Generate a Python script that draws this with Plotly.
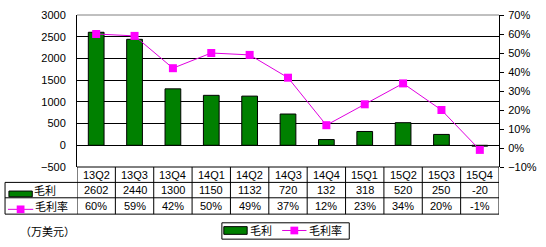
import plotly.graph_objects as go

categories = ["13Q2", "13Q3", "13Q4", "14Q1", "14Q2", "14Q3", "14Q4", "15Q1", "15Q2", "15Q3", "15Q4"]
gross_profit = [2602, 2440, 1300, 1150, 1132, 720, 132, 318, 520, 250, -20]
gross_margin = [60, 59, 42, 50, 49, 37, 12, 23, 34, 20, -1]
series_names = ["毛利", "毛利率"]
unit_label = "（万美元）"

W, H = 546, 247
L, R, T, B = 77, 35, 9, 80
PW, PH = W - L - R, H - T - B

def px(x):
    return (x - L) / PW

def py(y):
    return (H - B - y) / PH

BAR_C = "#008000"
LINE_C = "#E000E0"
MK_C = "#FF00FF"
NUM_FONT = dict(family="Liberation Sans, Arial, sans-serif", size=11, color="black")
CJK_FONT = dict(family="Noto Sans CJK SC, sans-serif", size=11, color="black")

fig = go.Figure()
fig.add_trace(go.Bar(x=categories, y=gross_profit, name=series_names[0], width=0.41,
                     marker=dict(color=BAR_C, line=dict(color="black", width=1)),
                     yaxis="y", showlegend=False))
fig.add_trace(go.Scatter(x=categories, y=gross_margin, name=series_names[1], mode="lines+markers",
                         line=dict(color=LINE_C, width=1),
                         marker=dict(symbol="square", size=8, color=MK_C),
                         yaxis="y2", showlegend=False))

shapes = []
annotations = []
n = len(categories)

# top border (grey)
shapes.append(dict(type="line", xref="paper", yref="paper", x0=0, x1=1, y0=1, y1=1,
                   line=dict(color="#808080", width=1), layer="above"))

# table geometry (pixels)
row_tops = [167, 183, 199, 216]
for i, yy in enumerate(row_tops):
    x0 = px(77) if i == 0 else px(3)
    shapes.append(dict(type="line", xref="paper", yref="paper", x0=x0, x1=1,
                       y0=py(yy), y1=py(yy), line=dict(color="black", width=1)))
shapes.append(dict(type="line", xref="paper", yref="paper", x0=px(3), x1=px(3),
                   y0=py(183), y1=py(216), line=dict(color="black", width=1)))
for k in range(n + 1):
    shapes.append(dict(type="line", xref="x", yref="paper", x0=k - 0.5, x1=k - 0.5,
                       y0=py(167), y1=py(216), line=dict(color="black", width=1)))

row_centers = [175, 191, 207.5]
for i, c in enumerate(categories):
    annotations.append(dict(x=c, xref="x", y=py(row_centers[0]), yref="paper", text=c,
                            showarrow=False, font=NUM_FONT, xanchor="center", yanchor="middle"))
    annotations.append(dict(x=c, xref="x", y=py(row_centers[1]), yref="paper", text=str(gross_profit[i]),
                            showarrow=False, font=NUM_FONT, xanchor="center", yanchor="middle"))
    annotations.append(dict(x=c, xref="x", y=py(row_centers[2]), yref="paper", text=f"{gross_margin[i]}%",
                            showarrow=False, font=NUM_FONT, xanchor="center", yanchor="middle"))

def bar_key(x0, x1, y0, y1):
    shapes.append(dict(type="rect", xref="paper", yref="paper", x0=px(x0), x1=px(x1),
                       y0=py(y1), y1=py(y0), fillcolor=BAR_C, line=dict(color="black", width=1)))

def line_key(x0, x1, yc):
    shapes.append(dict(type="line", xref="paper", yref="paper", x0=px(x0), x1=px(x1),
                       y0=py(yc), y1=py(yc), line=dict(color=LINE_C, width=1)))
    xm = (x0 + x1) / 2
    shapes.append(dict(type="rect", xref="paper", yref="paper", x0=px(xm - 4), x1=px(xm + 4),
                       y0=py(yc + 4), y1=py(yc - 4), fillcolor=MK_C, line=dict(width=0)))

# table keys
bar_key(7, 31, 192, 198)
annotations.append(dict(x=px(31), xref="paper", y=py(191), yref="paper", text=series_names[0],
                        showarrow=False, font=CJK_FONT, xanchor="left", yanchor="middle",
                        height=14))
line_key(6, 32, 211)
annotations.append(dict(x=px(32), xref="paper", y=py(207.5), yref="paper", text=series_names[1],
                        showarrow=False, font=CJK_FONT, xanchor="left", yanchor="middle",
                        height=14))

# bottom legend
shapes.append(dict(type="rect", xref="paper", yref="paper", x0=px(226), x1=px(357),
                   y0=py(242), y1=py(225), line=dict(color="black", width=1)))
bar_key(228, 252, 229, 237)
annotations.append(dict(x=px(253), xref="paper", y=py(233), yref="paper", text=series_names[0],
                        showarrow=False, font=CJK_FONT, xanchor="left", yanchor="middle"))
line_key(288, 313, 233)
annotations.append(dict(x=px(314), xref="paper", y=py(233), yref="paper", text=series_names[1],
                        showarrow=False, font=CJK_FONT, xanchor="left", yanchor="middle"))

annotations.append(dict(x=px(16), xref="paper", y=py(234), yref="paper", text=unit_label,
                        showarrow=False, font=dict(family="Noto Sans CJK SC, sans-serif", size=11, color="black"),
                        xanchor="left", yanchor="middle"))

fig.update_layout(
    width=W, height=H,
    margin=dict(l=L, r=R, t=T, b=B, pad=0),
    paper_bgcolor="white", plot_bgcolor="white",
    showlegend=False,
    bargap=0.59,
    xaxis=dict(type="category", range=[-0.5, n - 0.5], showticklabels=False, showgrid=False,
               zeroline=False, showline=False, ticks=""),
    yaxis=dict(range=[-500, 3000], dtick=500, tick0=0, showgrid=True, gridcolor="black", gridwidth=1,
               zeroline=True, zerolinecolor="black", zerolinewidth=1,
               showline=True, linecolor="black", linewidth=1, ticks="", tickfont=NUM_FONT,
               ticklabelstandoff=8),
    yaxis2=dict(range=[-10, 70], dtick=10, tick0=0, overlaying="y", side="right", showgrid=False,
                zeroline=False, showline=True, linecolor="black", linewidth=1,
                ticks="outside", ticklen=4, tickcolor="black", ticksuffix="%", tickfont=NUM_FONT,
                ticklabelstandoff=2),
    shapes=shapes,
    annotations=annotations,
)

fig.write_html("out.html")
